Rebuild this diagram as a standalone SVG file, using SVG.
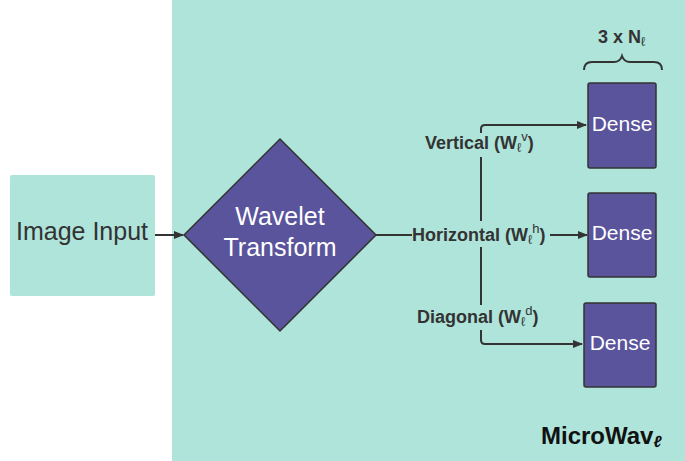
<svg xmlns="http://www.w3.org/2000/svg" width="685" height="461" viewBox="0 0 685 461">
<defs>
<style>
.teal{fill:#AEE4DA}
.purple{fill:#5A549C;stroke:#333;stroke-width:1.5}
.lbl{font-family:"Liberation Sans",Arial,sans-serif;font-weight:bold;font-size:18px;fill:#333}
.wt{font-family:"Liberation Sans",Arial,sans-serif;font-size:21px;fill:#fff;text-anchor:middle}
.big{font-size:25px}
.conn{fill:none;stroke:#333;stroke-width:2}
.sub{font-size:13px;font-weight:normal}
.sup{font-size:13px;font-weight:normal}
</style>
<marker id="ah" markerWidth="10" markerHeight="8" refX="9" refY="4" orient="auto" markerUnits="userSpaceOnUse">
<path d="M0,0 L10,4 L0,8 Z" fill="#333"/>
</marker>
</defs>
<rect x="0" y="0" width="685" height="461" fill="#fff"/>
<g id="container">
<rect class="teal" x="172" y="0" width="513" height="461"/>
<text x="541" y="444" font-family="Liberation Sans,Arial,sans-serif" font-weight="bold" font-size="24" fill="#111">MicroWav<tspan font-size="16" font-style="italic" dy="3">ℓ</tspan></text>
</g>
<g id="image-input">
<rect class="teal" x="10" y="175" width="145" height="121" rx="2"/>
<text x="82" y="240" font-family="Liberation Sans,Arial,sans-serif" font-size="25" fill="#333" text-anchor="middle">Image Input</text>
</g>
<g id="wavelet">
<polygon class="purple" points="280,139 376,235 280,331 184,235"/>
<text class="wt big" x="280" y="225">Wavelet</text>
<text class="wt big" x="280" y="256">Transform</text>
</g>
<g id="dense1">
<rect class="purple" x="588" y="83" width="68" height="85" rx="2"/>
<text class="wt" x="622" y="131">Dense</text>
</g>
<g id="dense2">
<rect class="purple" x="588" y="193" width="68" height="84" rx="2"/>
<text class="wt" x="622" y="240">Dense</text>
</g>
<g id="dense3">
<rect class="purple" x="584" y="303" width="72" height="84" rx="2"/>
<text class="wt" x="620" y="350">Dense</text>
</g>
<g id="brace">
<path class="conn" stroke-width="1.5" d="M584,70 Q584,62 592,62 L614,62 Q620,62 622,56 Q624,62 630,62 L654,62 Q662,62 662,70"/>
<text class="lbl" x="598" y="43">3 x N<tspan class="sub" dy="3">ℓ</tspan></text>
</g>
<g id="connectors">
<line class="conn" x1="155" y1="235" x2="183" y2="235" marker-end="url(#ah)"/>
<line class="conn" x1="376" y1="235" x2="412" y2="235"/>
<line class="conn" x1="550" y1="235" x2="587" y2="235" marker-end="url(#ah)"/>
<path class="conn" d="M481,133 L481,129 Q481,125 485,125 L586,125" marker-end="url(#ah)"/>
<line class="conn" x1="481" y1="157" x2="481" y2="221"/>
<line class="conn" x1="481" y1="247" x2="481" y2="305"/>
<path class="conn" d="M481,330 L481,340 Q481,344 485,344 L582,344" marker-end="url(#ah)"/>
</g>
<g id="labels">
<text class="lbl" x="425" y="149">Vertical (W<tspan class="sub" dy="3">ℓ</tspan><tspan class="sup" dy="-11">v</tspan><tspan dy="8">)</tspan></text>
<text class="lbl" x="412" y="241">Horizontal (W<tspan class="sub" dy="3">ℓ</tspan><tspan class="sup" dy="-11">h</tspan><tspan dy="8">)</tspan></text>
<text class="lbl" x="417" y="323">Diagonal (W<tspan class="sub" dy="3">ℓ</tspan><tspan class="sup" dy="-11">d</tspan><tspan dy="8">)</tspan></text>
</g>
</svg>
